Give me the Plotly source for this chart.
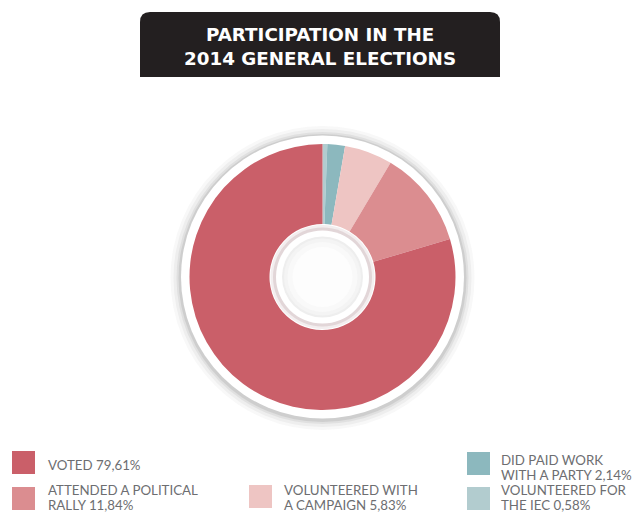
import plotly.graph_objects as go

# ---- data ----
categories = ["VOTED", "ATTENDED A POLITICAL RALLY", "VOLUNTEERED WITH A CAMPAIGN",
              "DID PAID WORK WITH A PARTY", "VOLUNTEERED FOR THE IEC"]
values = [79.61, 11.84, 5.83, 2.14, 0.58]
legend_lines = [
    ["VOTED 79,61%"],
    ["ATTENDED A POLITICAL", "RALLY 11,84%"],
    ["VOLUNTEERED WITH", "A CAMPAIGN 5,83%"],
    ["DID PAID WORK", "WITH A PARTY 2,14%"],
    ["VOLUNTEERED FOR", "THE IEC 0,58%"],
]
colors = ["#CA5F69", "#DB8D90", "#EEC5C3", "#8CB8BE", "#B2CCCF"]
title_lines = ["PARTICIPATION IN THE", "2014 GENERAL ELECTIONS"]

W, H = 635, 512
CX, CY, R = 322.5, 277, 133

# pie order: clockwise from top starting with smallest
order = [4, 3, 2, 1, 0]

fig = go.Figure()
fig.add_trace(go.Pie(
    labels=[categories[i] for i in order],
    values=[values[i] for i in order],
    marker=dict(colors=[colors[i] for i in order], line=dict(width=0)),
    sort=False, direction="clockwise", rotation=0,
    hole=53 / 133, textinfo="none", hoverinfo="label+percent",
    showlegend=False,
    domain=dict(x=[(CX - R) / W, (CX + R) / W], y=[(H - CY - R) / H, (H - CY + R) / H]),
))

shapes = []
def circle(r, fill, layer="below", opacity=1.0, dx=0, dy=0):
    shapes.append(dict(type="circle", xref="x", yref="y",
                       x0=CX - r + dx, x1=CX + r + dx, y0=CY - r + dy, y1=CY + r + dy,
                       fillcolor=fill, opacity=opacity,
                       line=dict(width=0), layer=layer))

# outer soft shadow
for r, op in [(152, 0.04), (149, 0.06), (146, 0.09), (144, 0.12)]:
    circle(r, "#555555", opacity=op, dy=1)
circle(141.5, "white")

# hole: subtle shadow on pie, white ring, light inner disk
for r, op in [(52, 0.08), (49.5, 0.12)]:
    circle(r, "#6a2a30", layer="above", opacity=op)
circle(46.5, "white", layer="above")
circle(40.5, "#eeeeee", layer="above")
circle(38.5, "#f4f4f4", layer="above")
circle(35, "#f9f9f9", layer="above")
circle(30, "#fdfdfd", layer="above")

# title box with rounded top corners
x0, x1, y0, y1, rc = 140, 500, 12, 77, 10
shapes.append(dict(type="path", xref="x", yref="y",
                   path=(f"M {x0},{y1} L {x0},{y0+rc} Q {x0},{y0} {x0+rc},{y0} "
                         f"L {x1-rc},{y0} Q {x1},{y0} {x1},{y0+rc} L {x1},{y1} Z"),
                   fillcolor="#231F20", line=dict(width=0), layer="below"))

annotations = []
for i, t in enumerate(title_lines):
    annotations.append(dict(text=f"<b>{t}</b>", x=(x0 + x1) / 2, y=34.5 + i * 23.5,
                            xref="x", yref="y", showarrow=False,
                            font=dict(family="DejaVu Sans", size=18.3, color="white"),
                            xanchor="center", yanchor="middle"))

# legend (squares + labels)
leg_pos = [(12, 451), (12, 487), (249, 485), (467, 452), (467, 487)]
text_x = [46, 46, 282, 499, 499]
line_y = [[465], [490, 505], [489.5, 504.5], [459.5, 474.5], [489.5, 504.5]]
SQ = 23
for i, (sx, sy) in enumerate(leg_pos):
    shapes.append(dict(type="rect", xref="x", yref="y", x0=sx, x1=sx + SQ, y0=sy, y1=sy + SQ,
                       fillcolor=colors[i], line=dict(width=0)))
    for txt, ly in zip(legend_lines[i], line_y[i]):
        annotations.append(dict(text=txt, x=text_x[i], y=ly, xref="x", yref="y",
                                showarrow=False, xanchor="left", yanchor="middle", align="left",
                                font=dict(family="Lato", size=13.3, color="#6D6E71")))

fig.update_layout(
    width=W, height=H, margin=dict(l=0, r=0, t=0, b=0),
    paper_bgcolor="white", plot_bgcolor="white",
    xaxis=dict(range=[0, W], visible=False, fixedrange=True),
    yaxis=dict(range=[H, 0], visible=False, fixedrange=True),
    shapes=shapes, annotations=annotations,
)
fig.write_html("out.html")
